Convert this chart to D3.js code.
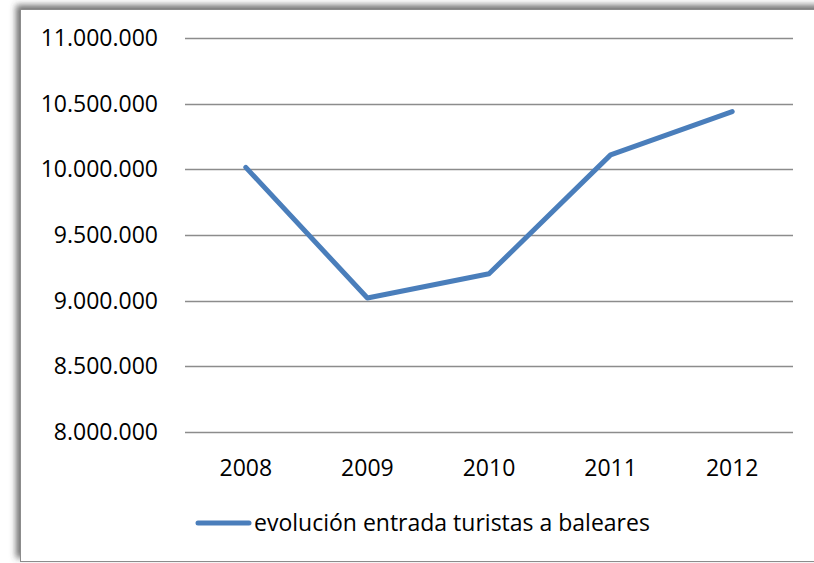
<!DOCTYPE html>
<html>
<head>
<meta charset="utf-8">
<script src="https://cdn.jsdelivr.net/npm/d3@7"></script>
<style>
  html, body { margin: 0; padding: 0; background: #fff; }
  svg { display: block; }
</style>
</head>
<body>
<div id="chart"></div>
<script>
// data
const years = ['2008', '2009', '2010', '2011', '2012'];
const tourists = [10015000, 9020000, 9205000, 10110000, 10440000];
const yTicks = [8000000, 8500000, 9000000, 9500000, 10000000, 10500000, 11000000];
const seriesName = 'evolución entrada turistas a baleares';

const W = 814, H = 563;
const FONT = "'Open Sans', 'Noto Sans', sans-serif";
const LINE_COLOR = '#4a7ebb';

const svg = d3.select('#chart').append('svg').attr('width', W).attr('height', H);

// frame shadow (top/left)
const defs = svg.append('defs');
const f = defs.append('filter').attr('id', 'shadow')
    .attr('x', '-5%').attr('y', '-5%').attr('width', '110%').attr('height', '110%');
f.append('feDropShadow').attr('dx', -4).attr('dy', -4)
    .attr('stdDeviation', 3).attr('flood-color', '#444').attr('flood-opacity', 0.75);

svg.append('rect')
    .attr('x', 20.5).attr('y', 9.5).attr('width', 820).attr('height', 552)
    .attr('fill', '#fff').attr('stroke', '#8c8c8c').attr('stroke-width', 1)
    .attr('filter', 'url(#shadow)');

const plot = { left: 185, right: 793, top: 38, bottom: 432 };

const x = d3.scaleBand().domain(years).range([plot.left, plot.right]);
const y = d3.scaleLinear().domain([8000000, 11000000]).range([plot.bottom, plot.top]);

const fmt = v => d3.format(',')(v).replace(/,/g, '.');

// gridlines
svg.append('g').selectAll('line')
    .data(yTicks)
    .join('line')
    .attr('x1', plot.left).attr('x2', plot.right)
    .attr('y1', d => Math.round(y(d)) + 0.5).attr('y2', d => Math.round(y(d)) + 0.5)
    .attr('stroke', '#8c8c8c').attr('stroke-width', 1.5);

// y labels
svg.append('g').selectAll('text')
    .data(yTicks)
    .join('text')
    .attr('x', 158).attr('y', d => y(d) + 8)
    .attr('text-anchor', 'end')
    .attr('font-family', FONT).attr('font-size', 23).attr('fill', '#000')
    .text(fmt);

// x labels
svg.append('g').selectAll('text')
    .data(years)
    .join('text')
    .attr('x', d => x(d) + x.bandwidth() / 2).attr('y', 476)
    .attr('text-anchor', 'middle')
    .attr('font-family', FONT).attr('font-size', 23).attr('fill', '#000')
    .text(d => d);

// the line
const line = d3.line()
    .x((d, i) => x(years[i]) + x.bandwidth() / 2)
    .y(d => y(d));

svg.append('path')
    .datum(tourists)
    .attr('d', line)
    .attr('fill', 'none')
    .attr('stroke', LINE_COLOR).attr('stroke-width', 5)
    .attr('stroke-linecap', 'round').attr('stroke-linejoin', 'round');

// legend
const lg = svg.append('g');
lg.append('line')
    .attr('x1', 198).attr('x2', 249).attr('y1', 523).attr('y2', 523)
    .attr('stroke', LINE_COLOR).attr('stroke-width', 5).attr('stroke-linecap', 'round');
lg.append('text')
    .attr('x', 254).attr('y', 531)
    .attr('font-family', FONT).attr('font-size', 23).attr('fill', '#000')
    .text(seriesName);
</script>
</body>
</html>
